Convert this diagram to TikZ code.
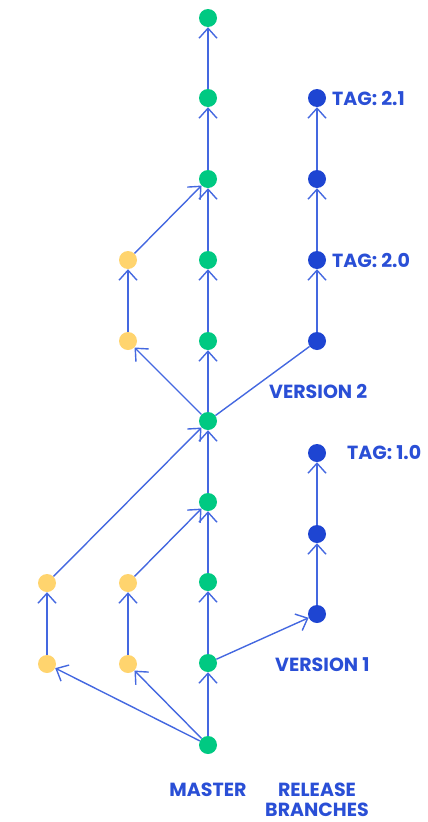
\documentclass[tikz,border=0pt]{standalone}
\usepackage{fontspec}
\setmainfont{Poppins}
\usetikzlibrary{arrows.meta}
\definecolor{gnode}{HTML}{00C982}
\definecolor{ynode}{HTML}{FFD46E}
\definecolor{bnode}{HTML}{1E45D2}
\definecolor{edgec}{HTML}{4468E0}
\definecolor{txt}{HTML}{2A4FD6}
\tikzset{
  commit/.style={circle, minimum size=18pt, inner sep=0pt},
  mnode/.style={commit, fill=gnode},
  fnode/.style={commit, fill=ynode},
  rnode/.style={commit, fill=bnode},
  edge/.style={draw=edgec, line width=1.4pt},
  arr/.style={edge, -{Straight Barb[length=10pt,width=18pt,line width=1.4pt]}},
  lbl/.style={text=txt, font=\bfseries\fontsize{19}{20}\selectfont, inner sep=0pt, anchor=west},
}
\begin{document}
\begin{tikzpicture}[x=1pt,y=-1pt]
\useasboundingbox (0,0) rectangle (428,822);
% master
\foreach \i/\y in {0/745,1/663,2/582,3/502,4/421,5/341,6/260,7/179,8/98,9/18}
  \node[mnode] (m\i) at (208,\y) {};
% feature branches
\node[fnode] (a1) at (47,664) {};
\node[fnode] (a2) at (47,583) {};
\node[fnode] (b1) at (128,664) {};
\node[fnode] (b2) at (128,583) {};
\node[fnode] (c1) at (128,341) {};
\node[fnode] (c2) at (128,260) {};
% release branches
\node[rnode] (r1) at (317,614) {};
\node[rnode] (r2) at (317,534) {};
\node[rnode] (r3) at (317,453) {};
\node[rnode] (s1) at (317,341) {};
\node[rnode] (s2) at (317,260) {};
\node[rnode] (s3) at (317,179) {};
\node[rnode] (s4) at (317,98) {};
% master edges
\foreach \a/\b in {0/1,1/2,2/3,3/4,4/5,5/6,6/7,7/8,8/9}
  \draw[arr] (m\a) -- (m\b);
% features
\draw[arr] (m0) -- (a1);
\draw[arr] (m0) -- (b1);
\draw[arr] (a1) -- (a2);
\draw[arr] (b1) -- (b2);
\draw[arr] (a2) -- (m4);
\draw[arr] (b2) -- (m3);
\draw[arr] (m4) -- (c1);
\draw[arr] (c1) -- (c2);
\draw[arr] (c2) -- (m7);
% releases
\draw[arr] (m1) -- (r1);
\draw[arr] (r1) -- (r2);
\draw[arr] (r2) -- (r3);
\draw[edge] (m4) -- (s1);
\draw[arr] (s1) -- (s2);
\draw[arr] (s2) -- (s3);
\draw[arr] (s3) -- (s4);
% labels
\node[lbl] (t21) at (332,98) {TAG: 2.1};
\node[lbl] (t20) at (332,260) {TAG: 2.0};
\node[lbl] (v2) at (269,391) {VERSION 2};
\node[lbl] (t10) at (347,452) {TAG: 1.0};
\node[lbl] (v1) at (275,665) {VERSION 1};
\node[lbl, anchor=center] (ms) at (208,790) {MASTER};
\node[lbl, anchor=center, align=center] (rb) at (317,800) {RELEASE\\BRANCHES};
\end{tikzpicture}
\end{document}
